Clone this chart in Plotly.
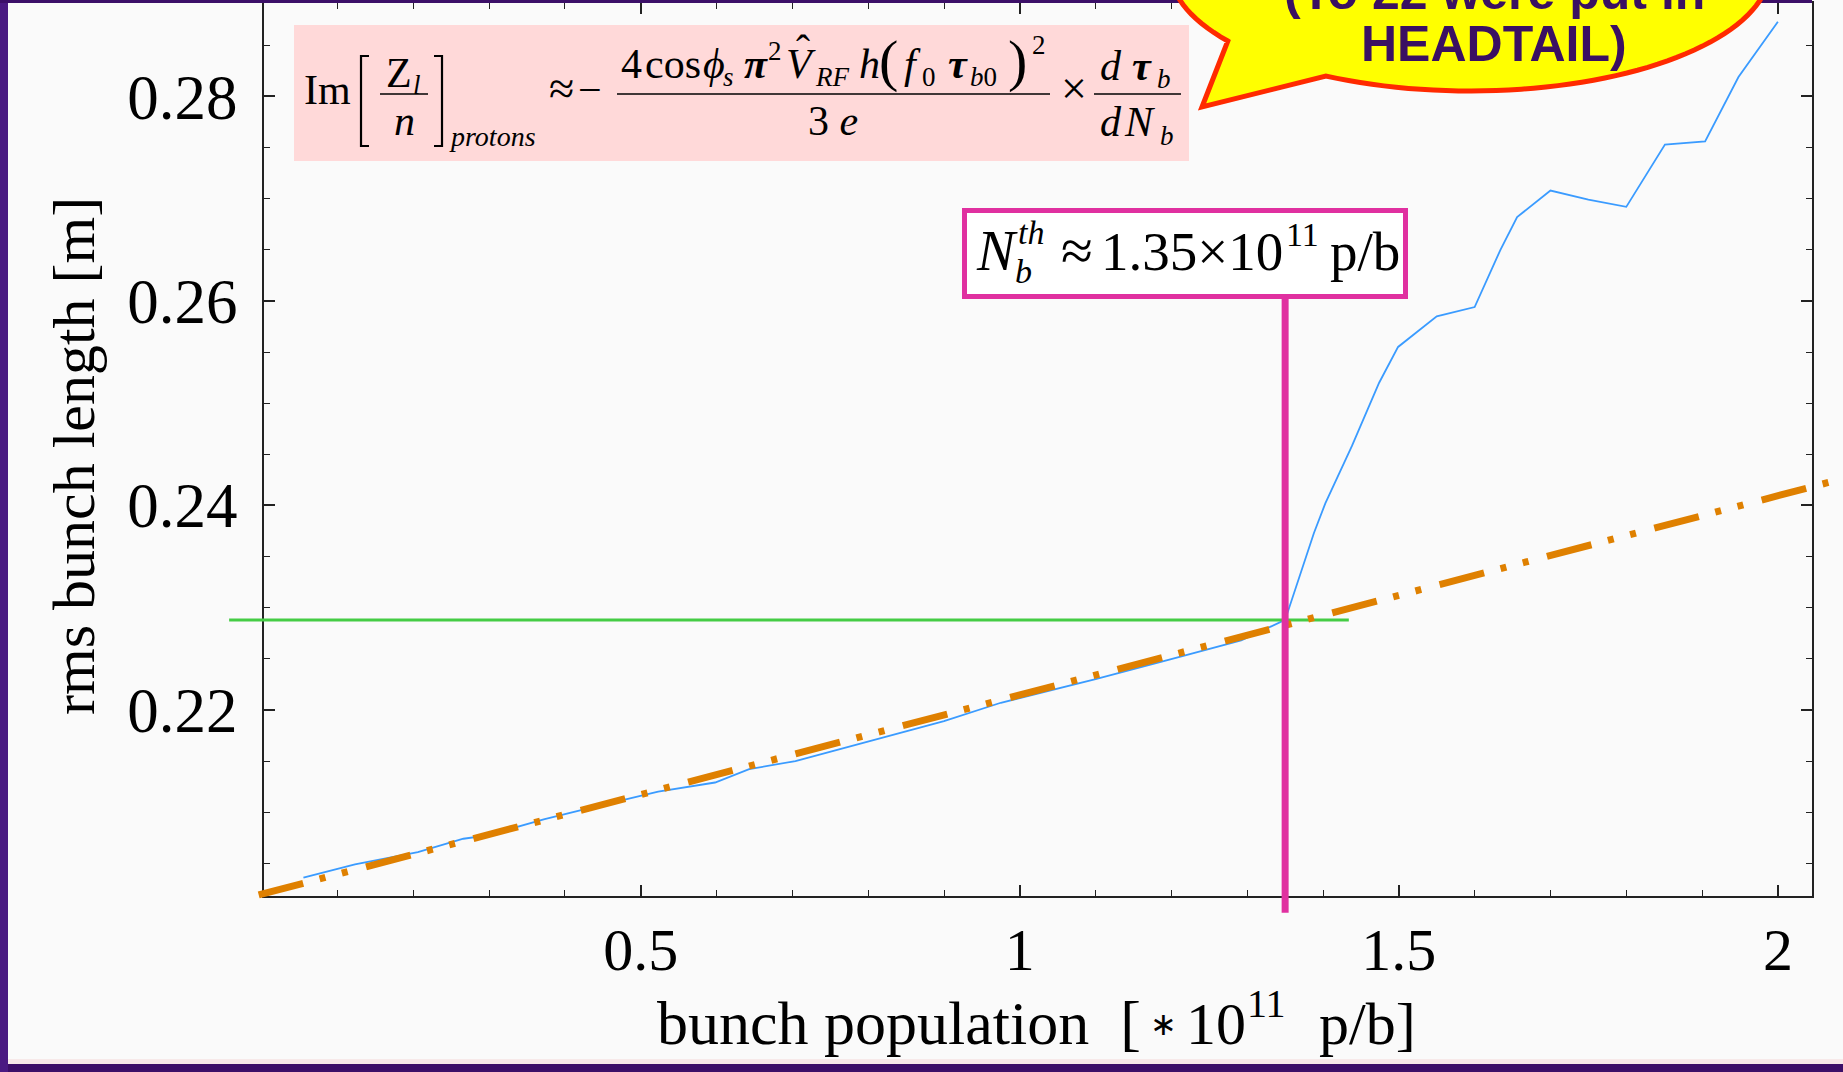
import numpy as np
import plotly.graph_objects as go

W, H = 1843, 1072

# ---------------- data ----------------
blue_x = [0.055, 0.123, 0.206, 0.266, 0.296, 0.372, 0.432, 0.523, 0.598, 0.643,
          0.704, 0.749, 0.824, 0.900, 0.975, 1.100, 1.196, 1.292, 1.350, 1.373,
          1.388, 1.403, 1.438, 1.474, 1.499, 1.550, 1.600, 1.634, 1.656, 1.700,
          1.750, 1.800, 1.851, 1.904, 1.948, 2.000]
blue_y = [0.2036, 0.2049, 0.2061, 0.2074, 0.2077, 0.2093, 0.2104, 0.2120, 0.2129, 0.2142,
          0.2150, 0.2159, 0.2174, 0.2189, 0.2207, 0.2230, 0.2249, 0.2268, 0.2288, 0.2340,
          0.2373, 0.2402, 0.2458, 0.2520, 0.2555, 0.2585, 0.2594, 0.2650, 0.2682, 0.2708,
          0.2699, 0.2692, 0.2753, 0.2756, 0.2819, 0.2873]
fit_x = [-0.004, 2.09]
fit_y = [0.2019, 0.2427]
thr_x = [-0.043, 1.434]
thr_y = [0.2288, 0.2288]
nth_x = [1.35, 1.35]
nth_y = [0.20015, 0.2602]

x_tickvals = [0.5, 1, 1.5, 2]
x_ticktext = ["0.5", "1", "1.5", "2"]
y_tickvals = [0.22, 0.24, 0.26, 0.28]
y_ticktext = ["0.22", "0.24", "0.26", "0.28"]

X_RANGE = [0.003, 2.045]
Y_RANGE = [0.2018, 0.28914]

# ---------------- layout geometry (pixels) ----------------
FL, FR, FT, FB = 264, 1812, 3, 896
SERIF = "Liberation Serif, Times New Roman, serif"
SANS = "Liberation Sans, Arial, sans-serif"


def px(x):
    return x / W


def py(y):
    return 1 - y / H


ux = (X_RANGE[1] - X_RANGE[0]) / (FR - FL)
uy = (Y_RANGE[1] - Y_RANGE[0]) / (FB - FT)
X2_RANGE = [X_RANGE[0] - FL * ux, X_RANGE[1] + (W - FR) * ux]
Y2_RANGE = [Y_RANGE[0] - (H - FB) * uy, Y_RANGE[1] + FT * uy]

fig = go.Figure()

fig.add_trace(go.Scatter(x=blue_x, y=blue_y, mode="lines",
                         line=dict(color="#3A9BFF", width=1.8),
                         xaxis="x", yaxis="y", hoverinfo="skip"))
fig.add_trace(go.Scatter(x=thr_x, y=thr_y, mode="lines",
                         line=dict(color="#44CC44", width=3),
                         xaxis="x2", yaxis="y2", hoverinfo="skip"))
fig.add_trace(go.Scatter(x=fit_x, y=fit_y, mode="lines",
                         line=dict(color="#DF8000", width=7,
                                   dash="46px,17px,6px,17px,6px,19px"),
                         xaxis="x2", yaxis="y2", hoverinfo="skip"))
fig.add_trace(go.Scatter(x=nth_x, y=nth_y, mode="lines",
                         line=dict(color="#E030A0", width=7),
                         xaxis="x2", yaxis="y2", hoverinfo="skip"))

axis_common = dict(showgrid=False, zeroline=False, showline=True, mirror="ticks",
                   linecolor="#222222", linewidth=2, ticks="inside", ticklen=11,
                   tickwidth=1.6, tickcolor="#222222",
                   automargin=False, fixedrange=True)

fig.update_layout(
    width=W, height=H,
    margin=dict(l=0, r=0, t=0, b=0, pad=0),
    paper_bgcolor="#FAFAFA", plot_bgcolor="rgba(0,0,0,0)",
    showlegend=False,
    xaxis=dict(domain=[px(FL), px(FR)], range=X_RANGE, anchor="y",
               tickvals=x_tickvals, ticktext=x_ticktext, ticklabelstandoff=0,
               tickfont=dict(family=SERIF, size=60, color="black"),
               minor=dict(ticks="inside", ticklen=6, tick0=0, dtick=0.1,
                          tickcolor="#222222", tickwidth=1.4, showgrid=False),
               **axis_common),
    yaxis=dict(domain=[py(FB), py(FT)], range=Y_RANGE, anchor="x",
               tickvals=y_tickvals, ticktext=y_ticktext, ticklabelstandoff=12,
               tickfont=dict(family=SERIF, size=63, color="black"),
               minor=dict(ticks="inside", ticklen=6, tick0=0.2, dtick=0.005,
                          tickcolor="#222222", tickwidth=1.4, showgrid=False),
               **axis_common),
    xaxis2=dict(domain=[0, 1], range=X2_RANGE, anchor="y2", visible=False, fixedrange=True),
    yaxis2=dict(domain=[0, 1], range=Y2_RANGE, anchor="x2", visible=False, fixedrange=True),
)

shapes = []
annots = []


def rect(x0, y0, x1, y1, fill, line_color=None, lw=0):
    shapes.append(dict(type="rect", xref="paper", yref="paper",
                       x0=px(x0), x1=px(x1), y0=py(y1), y1=py(y0),
                       fillcolor=fill, layer="above",
                       line=dict(color=line_color or fill, width=lw)))


def hline(x0, x1, y, color="black", w=1.6):
    shapes.append(dict(type="line", xref="paper", yref="paper",
                       x0=px(x0), x1=px(x1), y0=py(y), y1=py(y),
                       line=dict(color=color, width=w), layer="above"))


def polyline(points, color="black", w=2.2):
    path = "M " + " L ".join(f"{px(x):.5f},{py(y):.5f}" for x, y in points)
    shapes.append(dict(type="path", path=path, xref="paper", yref="paper",
                       line=dict(color=color, width=w), layer="above"))


def txt(s, x, base, size, anchor="left", family=SERIF, color="black", k=0.3375):
    annots.append(dict(text=s, x=px(x), y=py(base - k * size), xref="paper", yref="paper",
                       xanchor=anchor, yanchor="middle", showarrow=False,
                       font=dict(family=family, size=size, color=color)))


# slide border
rect(0, 1059, W, 1064, "#F7E9E9")
rect(0, 1064, W, H, "#3C0F68")
rect(0, 0, 8, H, "#4A1A82")
rect(0, 0, FR, 3, "#3C0F68")

# formula box
rect(294, 25, 1189, 161, "#FFD9D9")
F = 42
S = 27
txt("Im", 302, 104, F)
# stretched brackets
polyline([(369, 56), (361, 56), (361, 146), (369, 146)])
polyline([(434, 56), (442, 56), (442, 146), (434, 146)])
txt("Z", 384, 87, F)
txt("<i>l</i>", 411, 94, S)
hline(380, 428, 94)
txt("<i>n</i>", 404, 135, F, anchor="center")
txt("<i>protons</i>", 447, 146, 28)
txt("≈", 561, 104, 46, anchor="center")
txt("−", 590, 104, F, anchor="center")
# numerator
txt("4", 619, 78, F)
txt("cos", 643, 78, F)
txt("<i>ϕ</i>", 701, 78, F)
txt("<i>s</i>", 721, 86, S)
txt("<b><i>π</i></b>", 742, 78, F)
txt("2", 766, 60, S)
txt("<i>V</i>", 784, 78, F)
txt("ˆ", 803, 64, F, anchor="center")
txt("<i>RF</i>", 813, 86, S)
txt("<i>h</i>", 857, 78, F)
txt("(", 877, 80, 58)
txt("<i>f</i>", 902, 78, F)
txt("0", 920, 86, S)
txt("<b><i>τ</i></b>", 946, 78, F)
txt("<i>b</i>0", 968, 86, S)
txt(")", 1006, 80, 58)
txt("2", 1030, 54, S)
hline(617, 1050, 94)
txt("3 <i>e</i>", 833, 135, F, anchor="center")
txt("×", 1074, 104, 46, anchor="center")
txt("<i>d</i>", 1098, 80, F)
txt("<b><i>τ</i></b>", 1130, 80, F)
txt("<i>b</i>", 1155, 88, S)
hline(1094, 1181, 94)
txt("<i>d</i>", 1098, 136, F)
txt("<i>N</i>", 1122, 136, F)
txt("<i>b</i>", 1158, 145, S)

# threshold box
rect(964.5, 210.5, 1405.5, 296.5, "white", "#E030A0", 5)
TS = 55
txt("<i>N</i>", 974, 270, 57)
txt("<i>th</i>", 1016, 244, 34)
txt("<i>b</i>", 1013, 283, 34)
txt("≈", 1077, 270, 58, anchor="center")
txt("1.35×10", 1099, 270, TS)
txt("11", 1284, 246, 34)
txt("p/b", 1328, 270, TS)

# speech bubble
cx, cy, a, b = 1470.0, -31.0, 300.0, 122.0
t0 = np.pi - np.arcsin(72 / 122)
t1 = 2 * np.pi + np.pi - np.arcsin(107 / 122)
th = np.linspace(t0, t1, 140)
bx = cx + a * np.cos(th)
by = cy + b * np.sin(th)
pts = [(bx[i], by[i]) for i in range(len(th))] + [(1202, 107)]
path = "M " + " L ".join(f"{px(x):.5f},{py(y):.5f}" for x, y in pts) + " Z"
shapes.append(dict(type="path", path=path, xref="paper", yref="paper",
                   fillcolor="#FFFF00", line=dict(color="#FF2A00", width=5), layer="above"))
txt("<b>HEADTAIL)</b>", 1494, 61, 50, anchor="center", family=SANS, color="#3A1062", k=0.3465)
txt("<b>(To 22 were put in</b>", 1494, 9, 50, anchor="center", family=SANS, color="#3A1062", k=0.3465)

# axis titles
XB = 1044
txt("bunch population\u00a0\u00a0[", 1143, XB, 62, anchor="right")
annots.append(dict(text="∗", x=px(1163), y=py(1024), xref="paper", yref="paper",
                   xanchor="center", yanchor="middle", showarrow=False,
                   font=dict(family="DejaVu Sans", size=32, color="black")))
txt("10", 1184, XB, 60)
txt("11", 1245, 1017, 40)
txt("p/b]", 1317, XB, 60)
annots.append(dict(text="rms bunch length [m]", x=px(74), y=py(456), xref="paper", yref="paper",
                   xanchor="center", yanchor="middle", textangle=-90, showarrow=False,
                   font=dict(family=SERIF, size=60, color="black")))

fig.update_layout(shapes=shapes, annotations=annots)
fig.write_html("out.html")
